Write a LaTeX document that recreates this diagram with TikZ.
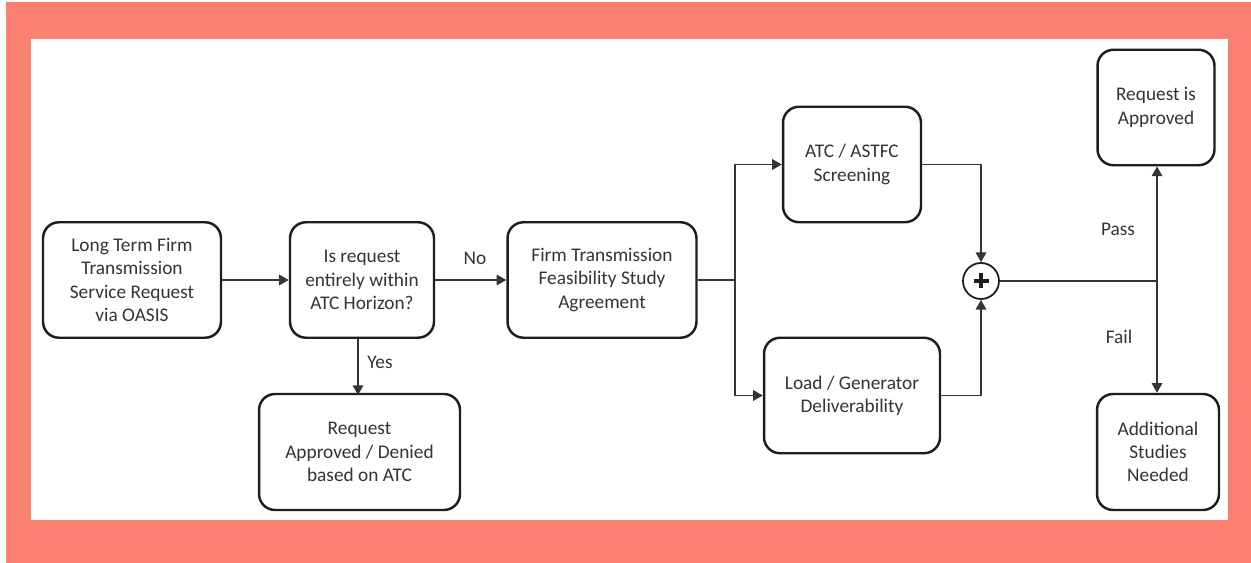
\documentclass[tikz,border=0pt]{standalone}
\usepackage{fontspec}
\setmainfont{Carlito}
\usetikzlibrary{arrows.meta,calc}
\definecolor{framesalmon}{RGB}{250,128,114}
\definecolor{inkgray}{RGB}{52,52,52}
\definecolor{linegray}{RGB}{30,30,30}
\tikzset{
  stage/.style={draw=linegray, line width=1.4pt, rounded corners=0.32cm, fill=white,
    align=center, inner sep=0pt, text=inkgray, font=\fontsize{11}{13.2}\selectfont,
    minimum height=2.31cm},
  flow/.style={draw=inkgray, line width=0.85pt, -{Triangle[length=5.5pt,width=6pt]}},
  wire/.style={draw=inkgray, line width=0.85pt},
  tag/.style={text=inkgray, font=\fontsize{11}{13.2}\selectfont, inner sep=0pt}
}
\begin{document}
\begin{tikzpicture}[x=0.02cm, y=-0.02cm]
		%%%%% START %%%%%
		
		\useasboundingbox (0, 0) rectangle (1251, 563);
		\fill[framesalmon] (6, 2) rectangle (1251, 563);
		\fill[white] (31, 39) rectangle (1228, 520);
		
		\node[stage, minimum width=3.56cm] (request) at (132, 280) {Long Term Firm\\Transmission\\Service Request\\via OASIS};
		\node[stage, minimum width=2.88cm] (horizon) at (362, 280) {Is request\\entirely within\\ATC Horizon?};
		\node[stage, minimum width=3.78cm] (feasibility) at (602, 280) {Firm Transmission\\Feasibility Study\\Agreement};
		\node[stage, minimum width=4.02cm, minimum height=2.32cm] (atcdecision) at (359.5, 452) {Request\\Approved / Denied\\based on ATC};
		
		\node[stage, minimum width=2.76cm] (screening) at (852, 164.5) {ATC / ASTFC\\Screening};
		\node[stage, minimum width=3.52cm] (deliver) at (852, 395.5) {Load / Generator\\Deliverability};
		
		\node[draw=linegray, line width=1pt, circle, minimum size=0.72cm, inner sep=0pt] (sum) at (981, 281) {};
		\draw[linegray, line width=2pt] ($(sum.center)+(-7.5,0)$) -- ($(sum.center)+(7.5,0)$);
		\draw[linegray, line width=2pt] ($(sum.center)+(0,-7.5)$) -- ($(sum.center)+(0,7.5)$);
		
		\node[stage, minimum width=2.34cm] (approved) at (1156, 107.5) {Request is\\Approved};
		\node[stage, minimum width=2.44cm, minimum height=2.32cm] (studies) at (1158, 452) {Additional\\Studies\\Needed};
		
		\coordinate (split) at (735, 280);
		\coordinate (fork) at (1157, 281);
		
		% connectors
		\draw[flow] (request) -- (horizon);
		\draw[flow] (horizon) -- (feasibility);
		\draw[flow] (atcdecision.north |- horizon.south) ++(-1.5, 0) -- ++(0, 56);
		\draw[wire] (feasibility.east) -- (split);
		\draw[flow] (split) |- (screening.west);
		\draw[flow] (split) |- (deliver.west);
		\draw[flow] (screening.east) -| (sum.north);
		\draw[flow] (deliver.east) -| (sum.south);
		\draw[wire] (sum.east) -- (fork);
		\draw[flow] (fork) -- (fork |- approved.south);
		\draw[flow] (fork) -- (fork |- studies.north);
		
		\node[tag] (nolabel) at (475, 258) {No};
		\node[tag] (yeslabel) at (380, 362) {Yes};
		\node[tag] (passlabel) at (1118, 229) {Pass};
		\node[tag] (faillabel) at (1119, 337) {Fail};
		
		%%%%% END %%%%%
\end{tikzpicture}
\end{document}
